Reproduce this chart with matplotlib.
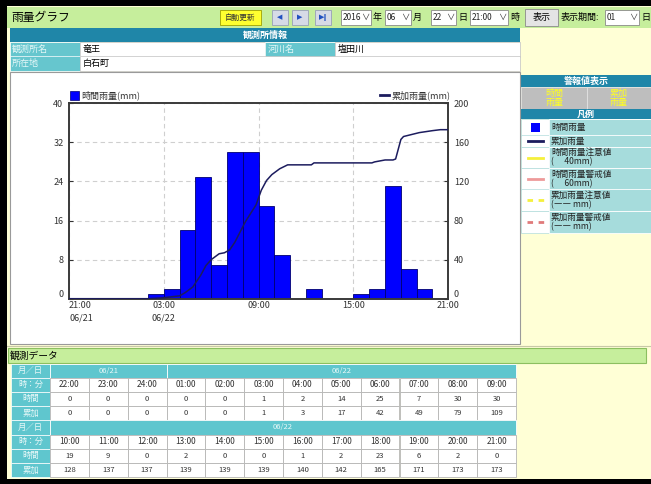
import matplotlib
matplotlib.use('Agg')
import matplotlib.pyplot as plt
from matplotlib.patches import Rectangle
from matplotlib.lines import Line2D
import numpy as np
import pandas as pd

plt.rcParams['font.family'] = ['Noto Sans CJK JP', 'DejaVu Sans']

# ---------------- data ----------------
hours_row1 = ['22:00', '23:00', '24:00', '01:00', '02:00', '03:00',
              '04:00', '05:00', '06:00', '07:00', '08:00', '09:00']
hours_row2 = ['10:00', '11:00', '12:00', '13:00', '14:00', '15:00',
              '16:00', '17:00', '18:00', '19:00', '20:00', '21:00']
hourly_rain = [0, 0, 0, 0, 0, 1, 2, 14, 25, 7, 30, 30,
               19, 9, 0, 2, 0, 0, 1, 2, 23, 6, 2, 0]
cumulative_rain = [0, 0, 0, 0, 0, 1, 3, 17, 42, 49, 79, 109,
                   128, 137, 137, 139, 139, 139, 140, 142, 165, 171, 173, 173]

line_times = ['06/21 21:00', '06/22 02:00', '06/22 03:00', '06/22 04:00', '06/22 04:20',
              '06/22 04:50', '06/22 05:20', '06/22 05:40', '06/22 06:00', '06/22 06:10',
              '06/22 06:30', '06/22 06:50', '06/22 07:10', '06/22 07:30', '06/22 08:10',
              '06/22 08:50', '06/22 09:10', '06/22 09:30', '06/22 09:50', '06/22 10:20',
              '06/22 10:50', '06/22 12:20', '06/22 12:30', '06/22 16:10', '06/22 16:20',
              '06/22 17:00', '06/22 17:30', '06/22 17:40', '06/22 18:00', '06/22 18:10',
              '06/22 18:40', '06/22 19:10', '06/22 20:00', '06/22 20:30', '06/22 21:00']
line_values = [0, 0, 1, 3, 6, 12, 24, 34, 40, 42, 46, 47, 50, 58, 79, 96, 111, 121, 127,
               133, 137, 137, 139, 139, 140, 142, 142, 143, 163, 166, 168, 170, 172, 173, 173]

xtick_labels = ['21:00\n06/21', '03:00\n06/22', '09:00', '15:00', '21:00']
left_ticks = [0, 8, 16, 24, 32, 40]
right_ticks = [0, 40, 80, 120, 160, 200]

# ---------------- page helpers ----------------
W, H = 651, 484
fig = plt.figure(figsize=(W / 100, H / 100), dpi=100)
CREAM = '#FFFFD6'
fig.patch.set_facecolor(CREAM)

DARK_TEAL = '#1F86A8'
LABEL_TEAL = '#66C6CE'
TABLE_TEAL = '#5FC6CE'
GREEN = '#C6EE9C'


def R(x0, y0, x1, y1, fc, ec='none', lw=0.0, z=-5):
    fig.add_artist(Rectangle((x0 / W, 1 - y1 / H), (x1 - x0) / W, (y1 - y0) / H,
                             transform=fig.transFigure, facecolor=fc,
                             edgecolor=ec, linewidth=lw, zorder=z))


def T(x, y, s, size=7, color='black', ha='left', va='center', **kw):
    fig.text(x / W, 1 - y / H, s, fontsize=size, color=color, ha=ha, va=va, **kw)


def L(x0, x1, y0, y1, color, lw=1.0, ls='-', z=2):
    fig.add_artist(Line2D([x0 / W, x1 / W], [1 - y0 / H, 1 - y1 / H],
                          transform=fig.transFigure, color=color, lw=lw,
                          linestyle=ls, zorder=z))


# ---------------- header bar ----------------
R(7, 7, 651, 28, GREEN)
T(11, 17.5, '雨量グラフ', size=8.5)
R(220, 10, 261, 25, '#FFFF30', ec='#A0A000', lw=0.6)
T(240.5, 17.5, '自動更新', size=5.5, ha='center', color='#333333')
for x0, sym in [(272, '◀'), (292, '▶'), (315, '▶‖')]:
    R(x0, 10, x0 + 16, 25, '#D6DAE6', ec='#98A0B8', lw=0.6)
    T(x0 + 8, 17.5, sym, size=5, ha='center', color='#2050C0', family='DejaVu Sans')
for x0, x1, val, unit in [(341, 371, '2016', '年'), (385, 411, '06', '月'),
                          (431, 456, '22', '日'), (470, 508, '21:00', '時'),
                          (605, 639, '01', '日')]:
    R(x0, 10, x1, 25, 'white', ec='#8A8A8A', lw=0.6)
    T(x0 + 2, 17.5, val, size=6, color='#222222')
    T(x1 - 2, 17.5, '∨', size=6, ha='right', color='#333333')
    T(x1 + 2, 17.5, unit, size=6.5)
R(525, 9, 558, 26, '#E4E4E4', ec='#8A8A8A', lw=0.6)
T(541.5, 17.5, '表示', size=6.5, ha='center')
T(561, 17.5, '表示期間:', size=6.5)

# ---------------- station info ----------------
R(10, 28, 520, 42, DARK_TEAL)
T(265, 35, '観測所情報', size=6.5, color='white', ha='center', weight='bold')
R(10, 42, 80, 56.5, LABEL_TEAL, ec='white', lw=0.5)
R(80, 42, 265, 56.5, 'white', ec='#C0C0C0', lw=0.5)
R(265, 42, 335, 56.5, LABEL_TEAL, ec='white', lw=0.5)
R(335, 42, 520, 56.5, 'white', ec='#C0C0C0', lw=0.5)
R(10, 56.5, 80, 70.5, LABEL_TEAL, ec='white', lw=0.5)
R(80, 56.5, 520, 70.5, 'white', ec='#C0C0C0', lw=0.5)
T(12, 49.5, '観測所名', size=6.5, color='#E6F8F8')
T(83, 49.5, '竜王', size=6.5)
T(268, 49.5, '河川名', size=6.5, color='#E6F8F8')
T(338, 49.5, '塩田川', size=6.5)
T(12, 63.5, '所在地', size=6.5, color='#E6F8F8')
T(83, 63.5, '白石町', size=6.5)

# ---------------- chart panel ----------------
R(10, 72, 520, 344, 'white', ec='#9A9A9A', lw=0.8, z=-4)
L(7, 651, 345.5, 345.5, '#C8C8A8', lw=0.8, z=-3)

ax = fig.add_axes([69 / W, 1 - 298.7 / H, 379.3 / W, 195.4 / H])
ax.set_facecolor('white')
x_edges = np.arange(len(hourly_rain))
ax.bar(x_edges, hourly_rain, width=1.0, align='edge', color='#0000FF',
       edgecolor='#000070', linewidth=0.6, zorder=2)
ax.set_xlim(0, 24)
ax.set_ylim(0, 40)
ax.set_yticks(left_ticks)
ax.set_xticks([0, 6, 12, 18, 24])
ax.set_xticklabels(xtick_labels, linespacing=1.45)
ax.set_axisbelow(True)
ax.grid(True, linestyle=(0, (4, 3)), color='#CFCFCF', linewidth=0.8)
ax.tick_params(axis='y', direction='in', length=3, width=0.8, labelsize=6.5,
               labelcolor='#333333', color='#333333', pad=4)
ax.tick_params(axis='x', length=0, labelsize=6.5, labelcolor='#333333', pad=2)
for lab in ax.get_xticklabels():
    lab.set_verticalalignment('top')
ax.xaxis.get_major_ticks()[0].label1.set_horizontalalignment('left')
ax.yaxis.get_major_ticks()[0].label1.set_verticalalignment('bottom')
for sp in ax.spines.values():
    sp.set_color('#3A3A3A')
    sp.set_linewidth(1.2)

ax2 = ax.twinx()
t0 = pd.to_datetime('2016/06/21 21:00', format='%Y/%m/%d %H:%M')
lt = pd.to_datetime(['2016/' + s for s in line_times], format='%Y/%m/%d %H:%M')
line_hours = (lt - t0).total_seconds() / 3600.0
ax2.plot(line_hours, line_values, color='#1C1C5E', linewidth=1.1, zorder=3)
ax2.set_ylim(0, 200)
ax2.set_yticks(right_ticks)
ax2.tick_params(axis='y', direction='in', length=3, width=0.8, labelsize=6.5,
                labelcolor='#333333', color='#333333', pad=4)
ax2.yaxis.get_major_ticks()[0].label2.set_verticalalignment('bottom')
for sp in ax2.spines.values():
    sp.set_color('#3A3A3A')
    sp.set_linewidth(1.2)

# chart legend
R(70, 91, 79, 99.5, '#0000FF', ec='#000070', lw=0.5, z=1)
T(81, 95, '時間雨量(mm)', size=6.5, color='#333333')
L(380, 389, 95, 95, '#1C1C5E', lw=2)
T(391, 95, '累加雨量(mm)', size=6.5, color='#333333')

# ---------------- right legend panel ----------------
R(521, 75, 651, 87, DARK_TEAL)
T(586, 81, '警報値表示', size=6.5, color='white', ha='center', weight='bold')
R(521, 87, 587, 109, '#BEBEBE', ec='#E2E2E2', lw=0.6)
R(587, 87, 651, 109, '#BEBEBE', ec='#E2E2E2', lw=0.6)
T(554, 98, '時間\n雨量', size=6.5, color='#FFFF20', ha='center', linespacing=1.0)
T(619, 98, '累加\n雨量', size=6.5, color='#FFFF20', ha='center', linespacing=1.0)
R(521, 109, 651, 119, DARK_TEAL)
T(586, 114, '凡例', size=6.5, color='white', ha='center', weight='bold')

row_bounds = [119, 135.5, 147, 168, 189.5, 211, 233]
row_texts = ['時間雨量', '累加雨量', '時間雨量注意値\n(　 40mm)', '時間雨量警戒値\n(　 60mm)',
             '累加雨量注意値\n(―― mm)', '累加雨量警戒値\n(―― mm)']
for i, txt in enumerate(row_texts):
    y0, y1 = row_bounds[i], row_bounds[i + 1]
    R(521, y0, 549, y1, 'white', ec='#B0DCDC', lw=0.5)
    R(549, y0, 651, y1, '#A6DCDC', ec='white', lw=0.6)
    T(551, (y0 + y1) / 2, txt, size=6.2, color='#222222', linespacing=1.05)
ym = [(row_bounds[i] + row_bounds[i + 1]) / 2 for i in range(6)]
R(531, ym[0] - 4.5, 540, ym[0] + 4.5, '#0000FF', z=1)
L(528, 543, ym[1], ym[1], '#1C1C5E', lw=2)
L(528, 543, ym[2], ym[2], '#F5F03C', lw=2)
L(528, 543, ym[3], ym[3], '#EE9A9A', lw=2)
L(527, 544, ym[4], ym[4], '#F5F03C', lw=2, ls=(0, (2, 2)))
L(527, 544, ym[5], ym[5], '#E07A7A', lw=2, ls=(0, (2, 2)))

# ---------------- observation data table ----------------
R(8, 348, 646, 363, GREEN, ec='#8CBF60', lw=0.8)
T(10, 355.5, '観測データ', size=7)

ty0 = 363.5
rh = 14.2
cx0, cx1 = 50, 516
cw = (cx1 - cx0) / 12
row_labels = ['月／日', '時：分', '時間', '累加']
blocks = [(hours_row1, hourly_rain[:12], cumulative_rain[:12], [('06/21', 0, 3), ('06/22', 3, 12)]),
          (hours_row2, hourly_rain[12:], cumulative_rain[12:], [('06/22', 0, 12)])]
for b, (hrs, hv, cv, dates) in enumerate(blocks):
    base = ty0 + b * 4 * rh
    for r in range(4):
        y0 = base + r * rh
        R(11, y0, cx0, y0 + rh, TABLE_TEAL, ec='white', lw=0.5)
        T((11 + cx0) / 2, y0 + rh / 2, row_labels[r], size=6, color='#E8F8F8', ha='center')
    for lab, c0, c1 in dates:
        R(cx0 + c0 * cw, base, cx0 + c1 * cw, base + rh, TABLE_TEAL, ec='white', lw=0.6)
        T(cx0 + (c0 + c1) / 2 * cw, base + rh / 2, lab, size=5.5, color='#E8F8F8', ha='center')
    for r, vals in enumerate([hrs, hv, cv], start=1):
        y0 = base + r * rh
        for c, v in enumerate(vals):
            R(cx0 + c * cw, y0, cx0 + (c + 1) * cw, y0 + rh, 'white', ec='#B4B4B4', lw=0.6)
            T(cx0 + (c + 0.5) * cw, y0 + rh / 2, str(v), size=5.5 if r > 1 else 6,
              color='#333333', ha='center')

# ---------------- black frame ----------------
R(0, 0, 651, 6, 'black', z=5)
R(0, 0, 7, 484, 'black', z=5)
R(0, 479, 651, 484, 'black', z=5)

fig.savefig('out.png', dpi=100, facecolor=CREAM)
